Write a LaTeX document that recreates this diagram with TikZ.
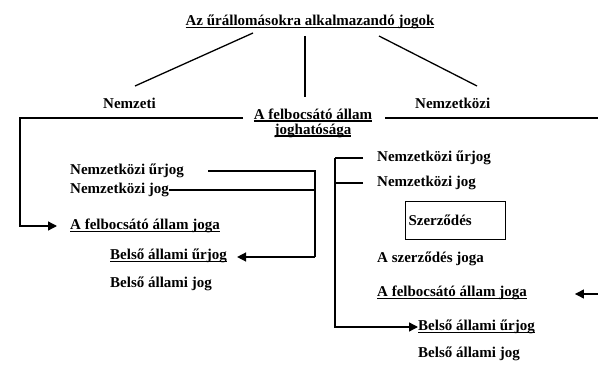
\documentclass[tikz,border=0pt]{standalone}
\usepackage{fontspec}
\setmainfont{Liberation Serif}
\usetikzlibrary{arrows.meta}
\newcommand\myul[1]{\setbox0\hbox{#1}\rlap{\raisebox{-2.8pt}{\rule{\wd0}{1.6pt}}}\box0}
\begin{document}
\begin{tikzpicture}[x=1pt,y=-1pt,
  every node/.style={font=\fontsize{15}{15}\selectfont\bfseries, inner sep=0pt},
  ln/.style={line width=1.3pt},
  arr/.style={ln,-{Triangle[length=9pt,width=9pt]}},
  lbl/.style={anchor=west}]
\useasboundingbox (0,0) rectangle (598,369);
% top
\node (title) at (310,22) {\myul{Az űrállomásokra alkalmazandó jogok}};
\node[lbl] (nemzeti) at (103,103) {Nemzeti};
\node[lbl] (nemzk) at (415,103) {Nemzetközi};
\node[align=center] (jh) at (313,123) {\myul{A felbocsátó állam}\\\myul{joghatósága}};
\coordinate (dl1) at (253,33); \coordinate (dl2) at (135,86);
\coordinate (dm1) at (305,36); \coordinate (dm2) at (305,97);
\coordinate (dr1) at (379,36); \coordinate (dr2) at (477,86);
\draw[ln] (dl1) -- (dl2);
\draw[ln] (dm1) -- (dm2);
\draw[ln] (dr1) -- (dr2);
% left column
\node[lbl] (nku1) at (70,171) {Nemzetközi űrjog};
\node[lbl] (nkj1) at (70,190) {Nemzetközi jog};
\node[lbl] (fa1) at (70,226) {\myul{A felbocsátó állam joga}};
\node[lbl] (bu1) at (110,256) {\myul{Belső állami űrjog}};
\node[lbl] (bj1) at (110,284) {Belső állami jog};
\coordinate (hl0) at (243,118); \coordinate (hl1) at (20,118);
\draw[arr, shorten >=13pt] (hl0) -- (hl1) |- (fa1.west);
\coordinate (v1top) at (315,171); \coordinate (v1bot) at (315,257);
\draw[ln] ([xshift=24pt]nku1.east) -- (v1top) -- (v1bot);
\draw[ln] (nkj1.east) -- (nkj1.east -| v1top);
\draw[arr, shorten >=10pt] (v1bot) -- (v1bot -| bu1.east);
% right column
\node[lbl] (nku2) at (377,158) {Nemzetközi űrjog};
\node[lbl] (nkj2) at (377,183) {Nemzetközi jog};
\node[draw, line width=1pt, anchor=north west, minimum width=100pt, minimum height=38pt, text width=94pt, inner sep=3pt, align=left] (szer) at (405,201) {Szerződés};
\node[lbl] (szj) at (377,259) {A szerződés joga};
\node[lbl] (fa2) at (377,293) {\myul{A felbocsátó állam joga}};
\node[lbl] (bu2) at (418,327) {\myul{Belső állami űrjog}};
\node[lbl] (bj2) at (418,354) {Belső állami jog};
\coordinate (hr0) at (385,118); \coordinate (hr1) at (598,118);
\draw[ln] (hr0) -- (hr1);
\coordinate (v2) at (335,158);
\draw[ln] ([xshift=-14pt]nku2.west) -- (v2);
\draw[ln] ([xshift=-14pt]nkj2.west) -- (nkj2.west -| v2);
\draw[arr] (v2) |- (bu2.west);
\coordinate (redge) at (598,294);
\draw[arr] (redge) -- ([xshift=48pt]redge -| fa2.east);
\end{tikzpicture}
\end{document}
